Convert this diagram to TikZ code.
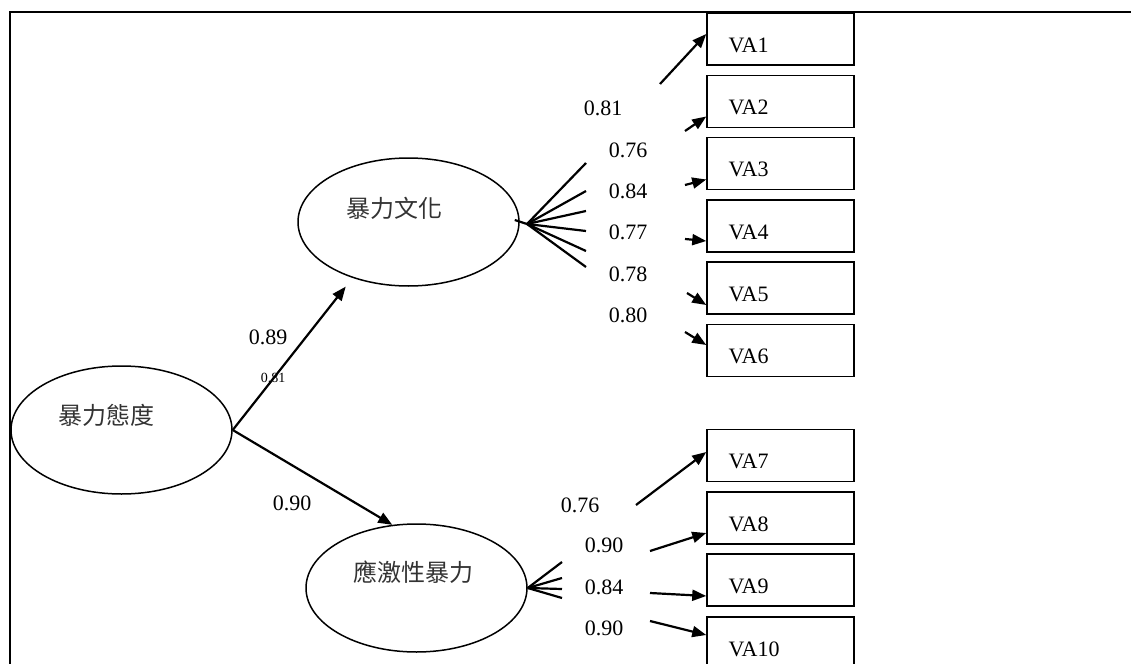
\documentclass[tikz,border=0pt]{standalone}
\usepackage{fontspec}
\setmainfont{Liberation Serif}
\newfontfamily\cjk{Noto Sans CJK TC}
\usetikzlibrary{shapes.geometric, arrows.meta}

\tikzset{
	latent/.style = {draw, ellipse, line width=0.75pt, minimum width=110.5pt, minimum height=64pt, inner sep=0pt},
	latent name/.style = {font=\cjk\fontsize{12}{14}\selectfont, text=black!80, inner sep=0pt},
	indicator/.style = {draw, rectangle, line width=0.75pt, minimum width=73.5pt, minimum height=26pt, inner sep=0pt},
	indicator name/.style = {anchor=west, xshift=11pt, yshift=-3pt, inner sep=0pt, font=\fontsize{11}{13}\selectfont},
	effect/.style = {line width=1.1pt, -{Triangle[length=7pt, width=5.5pt]}},
	fan/.style = {line width=1.1pt},
	coef/.style = {inner sep=0pt, font=\fontsize{11}{13}\selectfont},
}

\begin{document}
\begin{tikzpicture}[x=0.5pt, y=-0.5pt]
	\useasboundingbox (0,0) rectangle (1131,664);
	
	% frame
	\draw [line width=0.8pt] (10,664) -- (10,12) -- (1131,12);
	
	% latent variables
	\node [latent, label={[latent name, xshift=-7.75pt, yshift=7.5pt]center:暴力態度}] (att) at (121.5,430) {};
	\node [latent, label={[latent name, xshift=-7.25pt, yshift=7pt]center:暴力文化}] (cul) at (408.5,222) {};
	\node [latent, label={[latent name, xshift=-1.75pt, yshift=8pt]center:應激性暴力}] (str) at (416.5,588) {};
	
	% observed items
	\foreach \i/\y in {1/39, 2/101.5, 3/163.5, 4/226, 5/288, 6/350.5, 7/455.5, 8/518, 9/580, 10/643} {
		\node [indicator] (va\i) at (780.5,\y) {};
		\node [indicator name] (va\i name) at (va\i.west) {VA\i};
	}
	
	% second order paths
	\draw [effect, shorten >=5.5pt] (att.east) -- (cul.-135);
	\draw [effect] (att.east) -- (str.111);
	\node [coef] (c att cul) at (268,337) {0.89};
	\node [coef, font=\fontsize{7}{8}\selectfont] (c att small) at (273,378) {0.81};
	\node [coef] (c att str) at (292,503) {0.90};
	
	% loadings fanning out of the latents
	\coordinate (cul hub) at (527,224);
	\draw [fan] ([xshift=-2.5pt, yshift=1pt]cul.east) -- (cul hub);
	\foreach \y [count=\k] in {163, 191, 211, 231, 251, 267} {
		\coordinate (cul f\k) at (586,\y);
		\draw [fan] (cul hub) -- (cul f\k);
	}
	\foreach \y [count=\k] in {562, 578, 589, 598} {
		\coordinate (str f\k) at (562,\y);
		\draw [fan] (str.east) -- (str f\k);
	}
	
	% loading arrows into the items
	\foreach \i/\sx/\sy/\dy in {1/660/84/2.5, 2/685/131/-7.5, 3/685/185/-8, 4/685/239/-7.5, 5/687/293/-8.5, 6/685/332/2.75, 7/636/505/1.75, 8/650/551/-7.5, 9/650/593/-8, 10/650/621/4} {
		\coordinate (s\i) at (\sx,\sy);
		\draw [effect] (s\i) -- ([yshift=\dy pt]va\i.west);
	}
	
	% loading values
	\node [coef] (l1) at (603,108) {0.81};
	\foreach \v/\y [count=\k from 2] in {0.76/150, 0.84/191, 0.77/232, 0.78/274, 0.80/315} {
		\node [coef] (l\k) at (628,\y) {\v};
	}
	\node [coef] (l7) at (580,505) {0.76};
	\foreach \v/\y [count=\k from 8] in {0.90/545, 0.84/587, 0.90/628} {
		\node [coef] (l\k) at (604,\y) {\v};
	}
\end{tikzpicture}
\end{document}
